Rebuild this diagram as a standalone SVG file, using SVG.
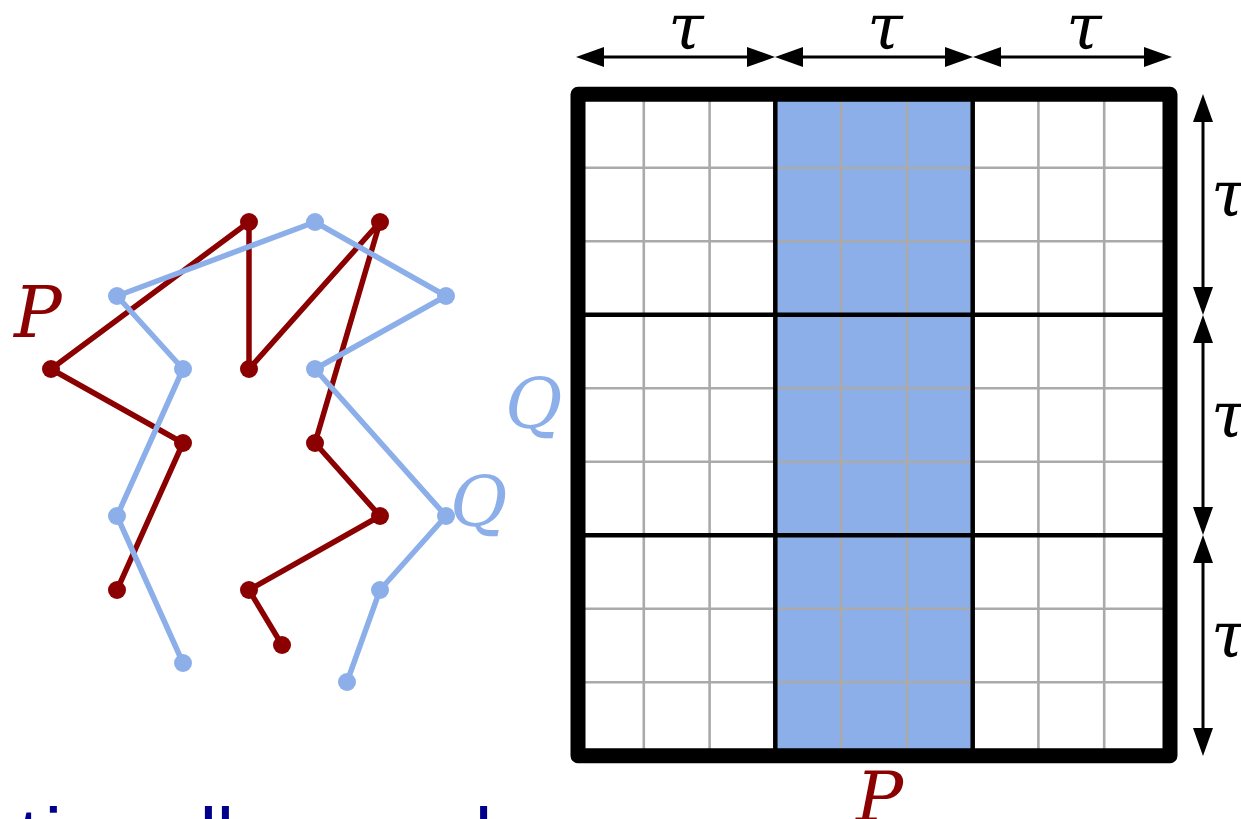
<svg xmlns="http://www.w3.org/2000/svg" width="1241" height="819" viewBox="0 0 1241 819">
<style>
.pl{fill:none;stroke:#8B0000;stroke-width:5.5;stroke-linejoin:round}
.ql{fill:none;stroke:#8CAFEA;stroke-width:5.5;stroke-linejoin:round}
.pd{fill:#8B0000}
.qd{fill:#8CAFEA}
.math{font-family:"DejaVu Serif","Liberation Serif",serif;font-style:italic}
.grey{stroke:#AAAAAA;stroke-width:2.6}
.blk{stroke:#000;stroke-width:4.5}
.arr{stroke:#000;stroke-width:3;fill:none;marker-start:url(#ah);marker-end:url(#ah)}
</style>
<defs>
<marker id="ah" viewBox="0 0 28 20" refX="3" refY="10" markerWidth="28" markerHeight="20" markerUnits="userSpaceOnUse" orient="auto-start-reverse">
<path d="M0,0 L28,10 L0,20 z" fill="#000"/>
</marker>
</defs>
<rect width="1241" height="819" fill="#fff"/>

<g id="curveP">
<polyline class="pl" points="117,590 183,443 51,369 249,222 249,369 380,222 315,443 380,516 249,590 282,645"/>
<g class="pd">
<circle cx="117" cy="590" r="9"/><circle cx="183" cy="443" r="9"/><circle cx="51" cy="369" r="9"/><circle cx="249" cy="222" r="9"/><circle cx="249" cy="369" r="9"/><circle cx="380" cy="222" r="9"/><circle cx="315" cy="443" r="9"/><circle cx="380" cy="516" r="9"/><circle cx="249" cy="590" r="9"/><circle cx="282" cy="645" r="9"/>
</g>
</g>
<g id="curveQ">
<polyline class="ql" points="183,663 117,516 183,369 117,296 315,222 446,296 315,369 446,516 380,590 347,682"/>
<g class="qd">
<circle cx="183" cy="663" r="9"/><circle cx="117" cy="516" r="9"/><circle cx="183" cy="369" r="9"/><circle cx="117" cy="296" r="9"/><circle cx="315" cy="222" r="9"/><circle cx="446" cy="296" r="9"/><circle cx="315" cy="369" r="9"/><circle cx="446" cy="516" r="9"/><circle cx="380" cy="590" r="9"/><circle cx="347" cy="682" r="9"/>
</g>
</g>
<g id="labelP"><text class="math" x="14" y="337" font-size="71" fill="#8B0000">P</text></g>
<g id="labelQ"><text class="math" x="450" y="526" font-size="70" fill="#8CAFEA">Q</text></g>

<g id="grid">
<rect x="775.3" y="94.2" width="197.4" height="661.6" fill="#8CAFEA"/>
<g class="grey">
<line x1="643.8" y1="94" x2="643.8" y2="756"/><line x1="709.6" y1="94" x2="709.6" y2="756"/>
<line x1="841.1" y1="94" x2="841.1" y2="756"/><line x1="906.9" y1="94" x2="906.9" y2="756"/>
<line x1="1038.4" y1="94" x2="1038.4" y2="756"/><line x1="1104.2" y1="94" x2="1104.2" y2="756"/>
<line x1="578" y1="167.7" x2="1170" y2="167.7"/><line x1="578" y1="241.2" x2="1170" y2="241.2"/>
<line x1="578" y1="388.2" x2="1170" y2="388.2"/><line x1="578" y1="461.7" x2="1170" y2="461.7"/>
<line x1="578" y1="608.7" x2="1170" y2="608.7"/><line x1="578" y1="682.2" x2="1170" y2="682.2"/>
</g>
<g class="blk">
<line x1="775.3" y1="94" x2="775.3" y2="756"/><line x1="972.7" y1="94" x2="972.7" y2="756"/>
<line x1="578" y1="314.7" x2="1170" y2="314.7"/><line x1="578" y1="535.2" x2="1170" y2="535.2"/>
</g>
<rect x="578" y="94.2" width="592" height="661.6" fill="none" stroke="#000" stroke-width="15" stroke-linejoin="round"/>
</g>
<g id="gridLabelQ"><text class="math" x="505" y="428" font-size="70" fill="#8CAFEA">Q</text></g>
<g id="gridLabelP"><text class="math" x="856" y="821" font-size="70" fill="#8B0000">P</text></g>

<g id="connectors">
<line class="arr" x1="601" y1="57" x2="750" y2="57"/>
<line class="arr" x1="800" y1="57" x2="948" y2="57"/>
<line class="arr" x1="998" y1="57" x2="1147" y2="57"/>
<line class="arr" x1="1203" y1="119" x2="1203" y2="290"/>
<line class="arr" x1="1203" y1="340" x2="1203" y2="510"/>
<line class="arr" x1="1203" y1="560" x2="1203" y2="731"/>
</g>
<g id="tauLabels" class="math" font-size="64">
<text x="686" y="49" text-anchor="middle">τ</text>
<text x="885" y="49" text-anchor="middle">τ</text>
<text x="1084" y="49" text-anchor="middle">τ</text>
<text x="1211" y="216">τ</text>
<text x="1211" y="437">τ</text>
<text x="1211" y="657">τ</text>
</g>

<g id="caption">
<text y="864" font-family="'Liberation Sans',Arial,sans-serif" font-size="80" fill="#00008B"><tspan x="18">t</tspan><tspan x="44.6">i</tspan>ona<tspan x="199.6">l</tspan><tspan x="216.6">l</tspan>y use<tspan x="448">d</tspan></text>
</g>
</svg>
